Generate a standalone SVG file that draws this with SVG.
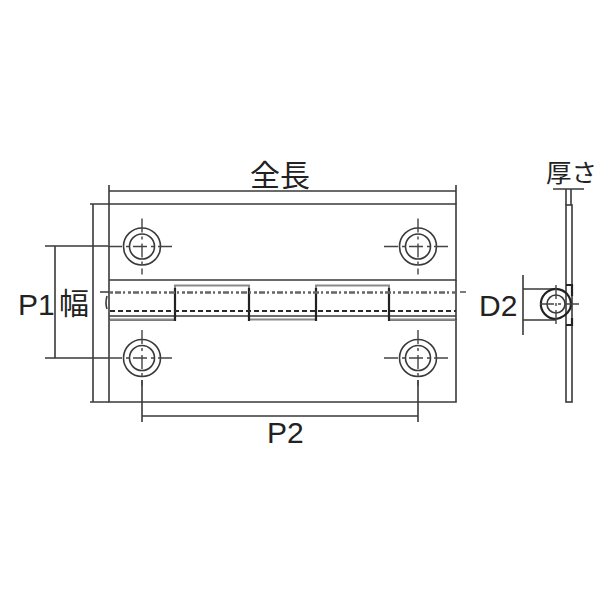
<svg xmlns="http://www.w3.org/2000/svg" width="600" height="600" viewBox="0 0 600 600">
<defs>
<style>
.l{fill:none;stroke:#3a3a3a;stroke-width:1.6}
.h{fill:none;stroke:#222;stroke-width:2.2}
.g{fill:none;stroke:#8a8a8a;stroke-width:2}
.d{fill:none;stroke:#2a2a2a;stroke-width:2;stroke-dasharray:5 3}
.n{fill:none;stroke:#666;stroke-width:2.4;stroke-dasharray:3 2 6 2 2 3}
.c{fill:none;stroke:#444;stroke-width:1.4;stroke-dasharray:14 4 3 4}
text{font-family:"Liberation Sans","Noto Sans CJK JP",sans-serif;font-size:30px;fill:#222}
</style>
<g id="hole">
<circle class="l" r="18.500"/><circle class="l" r="12.500"/>
<path class="c" d="M-34 0H34M0 -28V28"/>
</g>
</defs>
<rect width="600" height="600" fill="#fff"/>
<g id="connectors">
<path class="l" d="M109 185V204M456 185V204M109 191H456"/>
<path class="l" d="M90 204H109M90 402H109M93 204V402"/>
<path class="l" d="M45 246H108M45 358H108M55 246V358"/>
<path class="l" d="M142 380V422M418 380V422M142 416H418"/>
<path class="l" d="M553 189H584M566 189V205M571 189V205"/>
<path class="l" d="M523 275V335M523 289H556M523 320H556"/>
</g>
<g id="plate-top"><path class="l" d="M109 280V204H456V280H109"/></g>
<g id="plate-bottom"><path class="l" d="M109 320V402H456V320H389M175 320H109"/></g>
<g id="hole-tl"><use href="#hole" x="142" y="246.500"/></g>
<g id="hole-tr"><use href="#hole" x="418" y="246.500"/></g>
<g id="hole-bl"><use href="#hole" x="142" y="358"/></g>
<g id="hole-br"><use href="#hole" x="418" y="358"/></g>
<g id="knuckles">
<path class="g" d="M175 291V285.500H249V291M316 291V285.500H389V291"/>
<path class="g" d="M109 319.500H175M249 319.500H316M389 319.500H456"/>
<path class="l" d="M109 316H456M109 280V320M456 280V320M100 292H109"/>
<path class="h" d="M175 288V321M249 288V321M316 288V321M389 288V321"/>
<path class="n" d="M110 292.500H456"/>
<path class="d" d="M110 311H456"/>
<path class="l" d="M107 296Q105 303 107 309"/>
<path class="c" d="M460 292H466"/>
</g>
<g id="side-view">
<rect class="l" x="566" y="205" width="6" height="197"/>
<path class="h" d="M566 285H572V296M572 318V325H566"/>
<path class="h" d="M556 319A15 15 0 1 1 570 309Q566 317 556 319"/>
<circle class="l" cx="556" cy="304" r="9"/>
<path class="c" d="M540 304H580M556 285V327"/>
</g>
<g id="labels">
<text x="250" y="186">全長</text>
<text x="18" y="315">P1</text>
<text x="59" y="314">幅</text>
<text x="267" y="443">P2</text>
<text x="479" y="316">D2</text>
<text x="546" y="182" font-size="25.500" style="font-size:25.500px">厚さ</text>
</g>
</svg>
